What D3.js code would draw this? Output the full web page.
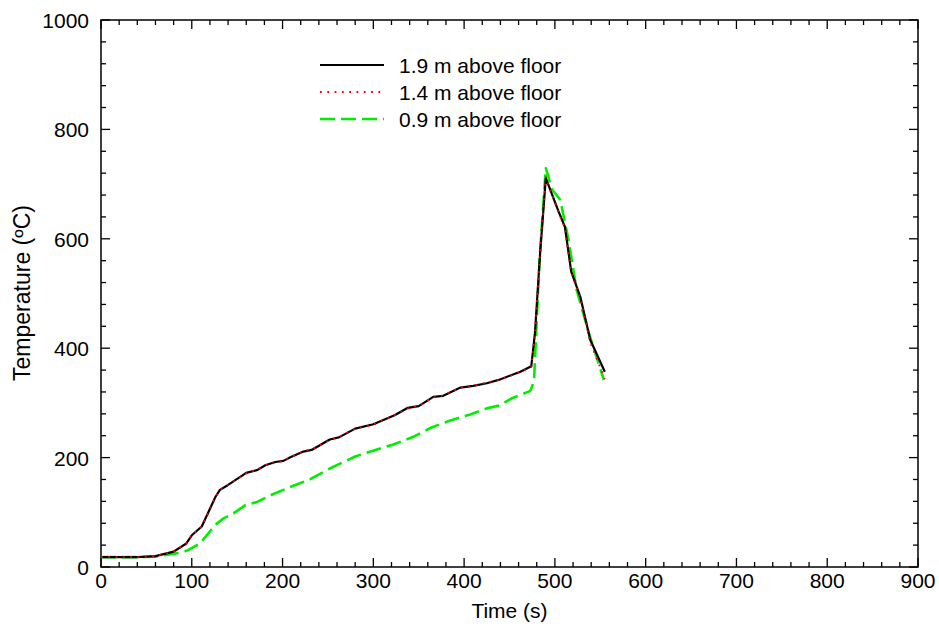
<!DOCTYPE html>
<html><head><meta charset="utf-8">
<script src="https://cdn.jsdelivr.net/npm/d3@7"></script>
<style>body{margin:0;background:#fff}svg{display:block}text{font-family:"Liberation Sans",Arial,sans-serif}</style>
</head><body>
<script>
const xTicks = [0,100,200,300,400,500,600,700,800,900];
const yTicks = [0,200,400,600,800,1000];
const seriesNames = ["1.9 m above floor","1.4 m above floor","0.9 m above floor"];
const time19 = [0,20,40,60,80,94,100,111,126,131,140,160,172,181,192,201,208,223,232,252,262,280,300,324,338,350,366,377,396,410,425,438,462,474,478,484,490,504,511,518,528,539,555];
const temp19 = [18,18,18,20,28,43,58,74,128,141,150,172,177,186,192,194,200,211,214,233,237,253,261,278,291,294,311,313,328,331,336,342,357,367,427,580,711,650,622,540,494,415,357];
const time14 = [0,20,40,60,80,94,100,111,126,131,140,160,172,181,192,201,208,223,232,252,262,280,300,324,338,350,366,377,396,410,425,438,462,474,478,484,490,504,511,518,528,539,555];
const temp14 = [18,18,18,20,28,43,58,74,127,141,150,171,178,186,191,194,200,211,215,232,238,253,260,278,290,295,310,314,328,331,337,342,356,366,425,578,713,648,620,538,492,410,344];
const time09 = [0,20,40,60,80,95,109,126,135,146,159,172,188,208,230,252,280,304,322,344,364,385,407,425,440,452,473,477,483,490,497,506,515,524,537,554];
const temp09 = [18,18,18,19,24,30,43,77,89,98,113,119,132,146,160,180,202,215,224,238,255,268,279,290,296,308,322,340,560,729,690,671,598,506,430,342];

const W=939,H=640, L=101, R=918, T=20, B=567;
const svg=d3.select("body").append("svg").attr("width",W).attr("height",H);
const x=d3.scaleLinear().domain([0,900]).range([L,R]);
const y=d3.scaleLinear().domain([0,1000]).range([B,T]);
const g=svg.append("g");
const minorX=d3.range(0,901,20), minorY=d3.range(0,1001,40);
const tk=g.append("g").attr("stroke","#000").attr("stroke-width",1.3);
minorX.forEach(v=>{const big=v%100===0, len=big?9:5;
  tk.append("line").attr("x1",x(v)).attr("x2",x(v)).attr("y1",B).attr("y2",B-len);
  tk.append("line").attr("x1",x(v)).attr("x2",x(v)).attr("y1",T).attr("y2",T+len);});
minorY.forEach(v=>{const big=v%200===0, len=big?9:5;
  tk.append("line").attr("y1",y(v)).attr("y2",y(v)).attr("x1",L).attr("x2",L+len);
  tk.append("line").attr("y1",y(v)).attr("y2",y(v)).attr("x1",R).attr("x2",R-len);});
g.append("rect").attr("x",L).attr("y",T).attr("width",R-L).attr("height",B-T).attr("fill","none").attr("stroke","#000").attr("stroke-width",1.5);
g.selectAll(".xl").data(xTicks).enter().append("text").attr("x",d=>x(d)).attr("y",588).attr("text-anchor","middle").attr("font-size",21).text(d=>d);
g.selectAll(".yl").data(yTicks).enter().append("text").attr("x",89).attr("y",d=>y(d)+8).attr("text-anchor","end").attr("font-size",21).text(d=>d);
svg.append("text").attr("x",(L+R)/2).attr("y",618).attr("text-anchor","middle").attr("font-size",21).text("Time (s)");
svg.append("text").attr("transform",`translate(30,293) rotate(-90)`).attr("text-anchor","middle").attr("font-size",23).text("Temperature (ºC)");
const line=d3.line().x(d=>x(d[0])).y(d=>y(d[1]));
const styles=[{c:"#000",w:2.2,da:null},{c:"#ff0000",w:1.8,da:"1.8,5.5"},{c:"#00ee00",w:2.6,da:"15,6"}];
const data=[d3.zip(time19,temp19),d3.zip(time14,temp14),d3.zip(time09,temp09)];
[2,0,1].forEach(i=>{
  g.append("path").datum(data[i]).attr("d",line).attr("fill","none").attr("stroke",styles[i].c).attr("stroke-width",styles[i].w).attr("stroke-dasharray",styles[i].da).attr("stroke-linejoin","round");
});
const ly=[65,92,119];
seriesNames.forEach((n,i)=>{
  svg.append("line").attr("x1",320).attr("x2",384).attr("y1",ly[i]).attr("y2",ly[i]).attr("stroke",styles[i].c).attr("stroke-width",styles[i].w).attr("stroke-dasharray",styles[i].da);
  svg.append("text").attr("x",399).attr("y",ly[i]+7.5).attr("font-size",21).text(n);
});
</script>
</body></html>
